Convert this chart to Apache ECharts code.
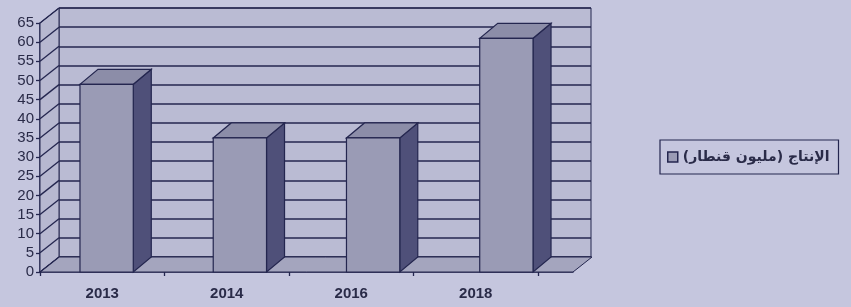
<!DOCTYPE html>
<html>
<head>
<meta charset="utf-8">
<script src="https://cdn.jsdelivr.net/npm/echarts@6/dist/echarts.min.js"></script>
<style>
  html, body { margin: 0; padding: 0; background: #c5c6de; }
  #chart { width: 851px; height: 307px; }
</style>
</head>
<body>
<div id="chart"></div>
<script>
// data
const YEARS = ['2013', '2014', '2016', '2018'];
const PRODUCTION = [49, 35, 35, 61];
const Y_TICKS = [0, 5, 10, 15, 20, 25, 30, 35, 40, 45, 50, 55, 60, 65];
const SERIES_NAME = '\u200Fالإنتاج (مليون قنطار)\u200F';

// depth offset of the fake 3D box (px)
const WALL_DX = 19, WALL_DY = -15;
const BAR_DX = 18, BAR_DY = -15;

const INK = '#24264f';

const chart = echarts.init(document.getElementById('chart'));

// walls: left side wall + floor + diagonal tick lines, drawn from grid rect
function renderWalls(params, api) {
  const cs = params.coordSys;
  const v = api.value(0);
  const y = api.coord([0, v])[1];
  const x0 = cs.x;
  const children = [];
  if (params.dataIndex === 0) {
    const bottom = cs.y + cs.height, right = cs.x + cs.width;
    children.push({
      type: 'polygon',
      shape: { points: [[x0, bottom], [x0, cs.y], [x0 + WALL_DX, cs.y + WALL_DY], [x0 + WALL_DX, bottom + WALL_DY]] },
      style: { fill: '#b7b8d0', stroke: INK, lineWidth: 1 }
    });
    children.push({
      type: 'polygon',
      shape: { points: [[x0, bottom], [right, bottom], [right + WALL_DX, bottom + WALL_DY], [x0 + WALL_DX, bottom + WALL_DY]] },
      style: { fill: '#a4a5be', stroke: INK, lineWidth: 1 }
    });
  }
  children.push({
    type: 'line',
    shape: { x1: x0, y1: y, x2: x0 + WALL_DX, y2: y + WALL_DY },
    style: { stroke: INK, lineWidth: 1.3 }
  });
  return { type: 'group', children: children };
}

function renderBar(params, api) {
  const idx = api.value(0);
  const top = api.coord([idx, api.value(1)]);
  const base = api.coord([idx, 0]);
  const w = api.size([1, 0])[0] * 0.4;
  const xl = top[0] - w / 2, xr = top[0] + w / 2;
  const yt = top[1], yb = base[1];
  return {
    type: 'group',
    children: [
      { type: 'polygon',
        shape: { points: [[xr, yb], [xr, yt], [xr + BAR_DX, yt + BAR_DY], [xr + BAR_DX, yb + BAR_DY]] },
        style: { fill: '#4f5079', stroke: INK, lineWidth: 1.2 } },
      { type: 'polygon',
        shape: { points: [[xl, yt], [xr, yt], [xr + BAR_DX, yt + BAR_DY], [xl + BAR_DX, yt + BAR_DY]] },
        style: { fill: '#8c8da8', stroke: INK, lineWidth: 1.2 } },
      { type: 'rect',
        shape: { x: xl, y: yt, width: w, height: yb - yt },
        style: { fill: '#9a9bb5', stroke: INK, lineWidth: 1.2 } }
    ]
  };
}

chart.setOption({
  backgroundColor: '#c5c6de',
  animation: false,
  textStyle: { fontFamily: 'Liberation Sans, Arial, sans-serif', color: INK },
  legend: {
    left: 660, top: 140,
    padding: [10, 9, 10, 7],
    borderColor: INK, borderWidth: 1.2,
    itemWidth: 10, itemHeight: 10, itemGap: 6,
    data: [{ name: SERIES_NAME, icon: 'rect', itemStyle: { color: '#9a9bb5', borderColor: INK, borderWidth: 1.5 } }],
    textStyle: { fontFamily: 'DejaVu Sans, sans-serif', fontSize: 14, fontWeight: 'bold', color: '#2a2b48' }
  },
  grid: [
    // front plane (bars, y axis)
    { left: 40, top: 23, width: 533, height: 249 },
    // category label axis (perspective-shrunk)
    { left: 40, top: 23, width: 498, height: 249 },
    // back wall
    { left: 59, top: 8, width: 532, height: 249, show: true, backgroundColor: '#babbd3', borderColor: INK, borderWidth: 1 }
  ],
  xAxis: [
    { gridIndex: 0, type: 'category', data: YEARS,
      axisLine: { lineStyle: { color: INK, width: 1.5 } }, axisTick: { show: false }, axisLabel: { show: false } },
    { gridIndex: 1, type: 'category', data: YEARS,
      axisLine: { show: false },
      axisTick: { show: true, length: 4, lineStyle: { color: INK, width: 1.3 } },
      axisLabel: { margin: 14, fontSize: 15, fontWeight: 'bold', color: '#2a2b48' } },
    { gridIndex: 2, type: 'category', data: YEARS, show: false }
  ],
  yAxis: [
    { gridIndex: 0, type: 'value', min: 0, max: 65, interval: 5,
      axisLine: { show: true, lineStyle: { color: INK, width: 1.5 } },
      axisTick: { show: true, length: 4, lineStyle: { color: INK, width: 1.3 } },
      axisLabel: { margin: 6, fontSize: 15, color: '#2a2b48' },
      splitLine: { show: false } },
    { gridIndex: 1, type: 'value', min: 0, max: 65, interval: 5, show: false },
    { gridIndex: 2, type: 'value', min: 0, max: 65, interval: 5,
      axisLine: { show: false }, axisTick: { show: false }, axisLabel: { show: false },
      splitLine: { show: true, lineStyle: { color: INK, width: 1.5 } } }
  ],
  series: [
    { type: 'custom', name: 'walls', xAxisIndex: 0, yAxisIndex: 0, z: 1,
      renderItem: renderWalls, data: Y_TICKS.map(v => [v]), silent: true },
    { type: 'custom', name: SERIES_NAME, xAxisIndex: 0, yAxisIndex: 0, z: 3,
      itemStyle: { color: '#9a9bb5' },
      renderItem: renderBar,
      encode: { x: 0, y: 1 },
      data: PRODUCTION.map((v, i) => [i, v]) }
  ]
});
</script>
</body>
</html>
